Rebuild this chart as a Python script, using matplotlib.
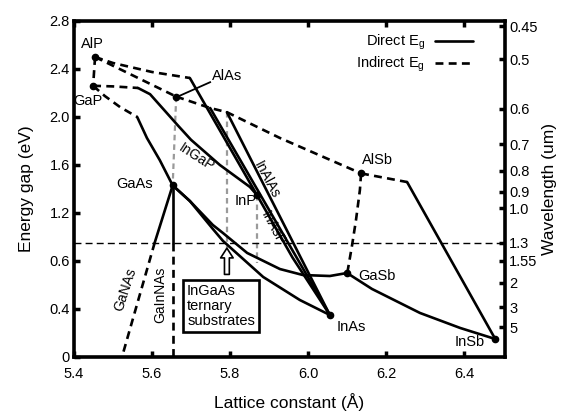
import matplotlib
matplotlib.use("Agg")
import matplotlib.pyplot as plt
from matplotlib.lines import Line2D

plt.rcParams['font.family'] = ['Liberation Sans', 'DejaVu Sans']
plt.rcParams['mathtext.fontset'] = 'custom'
plt.rcParams['mathtext.rm'] = 'Liberation Sans'
plt.rcParams['mathtext.it'] = 'Liberation Sans:italic'

# Binary compounds: lattice constant (Angstrom), band gap (eV)
compounds = ["AlP", "GaP", "AlAs", "GaAs", "InP", "InAs", "GaSb", "AlSb", "InSb"]
lattice = [5.454, 5.449, 5.662, 5.653, 5.869, 6.056, 6.100, 6.136, 6.480]
gap = [2.50, 2.26, 2.17, 1.43, 1.35, 0.35, 0.70, 1.53, 0.15]

# Ternary curves (indirect parts dashed, direct parts solid)
alp_gap_x, alp_gap_e = [5.454, 5.449], [2.50, 2.26]
alp_alas_x, alp_alas_e = [5.454, 5.662], [2.50, 2.17]
alinp_ind_x = [5.454, 5.500, 5.600, 5.697]
alinp_ind_e = [2.50, 2.45, 2.375, 2.325]
alinp_dir_x, alinp_dir_e = [5.697, 5.869], [2.325, 1.35]
ingap_ind_x, ingap_ind_e = [5.449, 5.500, 5.564], [2.26, 2.255, 2.242]
ingap_dir_x = [5.564, 5.595, 5.669, 5.700, 5.774, 5.851, 5.869]
ingap_dir_e = [2.242, 2.19, 1.92, 1.81, 1.60, 1.417, 1.35]
gaasp_ind_x = [5.449, 5.479, 5.518, 5.562]
gaasp_ind_e = [2.26, 2.175, 2.083, 2.00]
gaasp_dir_x = [5.562, 5.587, 5.620, 5.653]
gaasp_dir_e = [2.00, 1.825, 1.64, 1.43]
algaas_x, algaas_e = [5.662, 5.653], [2.17, 1.43]
alas_alsb_x = [5.662, 5.749, 5.792, 5.928, 6.136]
alas_alsb_e = [2.17, 2.075, 2.04, 1.825, 1.53]
inalas_a_x, inalas_a_e = [5.749, 6.056], [2.075, 0.35]
inalas_b_x, inalas_b_e = [5.792, 6.056], [2.04, 0.35]
inasp_x, inasp_e = [5.869, 5.960, 6.056], [1.35, 0.83, 0.35]
ingaas_x = [5.653, 5.697, 5.756, 5.782, 5.885, 5.979, 6.056]
ingaas_e = [1.43, 1.30, 1.067, 0.967, 0.667, 0.475, 0.35]
gaassb_x = [5.653, 5.697, 5.756, 5.782, 5.844, 5.928, 5.987, 6.056, 6.100]
gaassb_e = [1.43, 1.30, 1.10, 1.033, 0.867, 0.733, 0.683, 0.675, 0.70]
gasb_insb_x = [6.100, 6.164, 6.287, 6.390, 6.480]
gasb_insb_e = [0.70, 0.567, 0.367, 0.242, 0.15]
alsb_gasb_x = [6.136, 6.133, 6.123, 6.113, 6.102, 6.100]
alsb_gasb_e = [1.53, 1.392, 1.142, 0.933, 0.725, 0.70]
alsb_insb_ind_x, alsb_insb_ind_e = [6.136, 6.254], [1.53, 1.458]
alsb_insb_dir_x, alsb_insb_dir_e = [6.254, 6.480], [1.458, 0.15]
ganas_dir_x, ganas_dir_e = [5.653, 5.607], [1.43, 0.954]
ganas_ind_x, ganas_ind_e = [5.607, 5.523], [0.954, 0.0]
gainnas_dir_x, gainnas_dir_e = [5.653, 5.653], [1.43, 0.954]
gainnas_ind_x, gainnas_ind_e = [5.653, 5.653], [0.954, 0.0]
sub_lo_x, sub_lo_e = [5.792, 5.792], [2.04, 0.78]
sub_hi_x, sub_hi_e = [5.869, 5.869], [1.35, 0.78]

telecom_wavelength = 1.3  # um
left_ticks = [0, 0.4, 0.8, 1.2, 1.6, 2.0, 2.4, 2.8]
left_labels = ["0", "0.4", "0.6", "1.2", "1.6", "2.0", "2.4", "2.8"]
x_ticks = [5.4, 5.6, 5.8, 6.0, 6.2, 6.4]
wavelengths = [0.45, 0.5, 0.6, 0.7, 0.8, 0.9, 1.0, 1.3, 1.55, 2, 3, 5]
wavelength_labels = ["0.45", "0.5", "0.6", "0.7", "0.8", "0.9", "1.0", "1.3",
                     "1.55", "2", "3", "5"]

fig = plt.figure(figsize=(5.63, 4.12), dpi=100)
ax = fig.add_axes([74 / 563, 1 - 357 / 412, 431 / 563, 336 / 412])

LW = 1.9
DASH = (0, (3.0, 2.0))
solid = dict(color="black", lw=LW, solid_capstyle="round")
dashed = dict(color="black", lw=LW, linestyle=DASH)
gray = dict(color="#9a9a9a", lw=1.6, linestyle=(0, (2.5, 1.8)))

ax.plot(sub_lo_x, sub_lo_e, **gray)
ax.plot(sub_hi_x, sub_hi_e, **gray)
ax.plot(algaas_x, algaas_e, **gray)

for xs, es in [(alp_gap_x, alp_gap_e), (alp_alas_x, alp_alas_e),
               (alinp_ind_x, alinp_ind_e), (ingap_ind_x, ingap_ind_e),
               (gaasp_ind_x, gaasp_ind_e), (alas_alsb_x, alas_alsb_e),
               (alsb_gasb_x, alsb_gasb_e), (alsb_insb_ind_x, alsb_insb_ind_e),
               (ganas_ind_x, ganas_ind_e), (gainnas_ind_x, gainnas_ind_e)]:
    ax.plot(xs, es, **dashed)

for xs, es in [(alinp_dir_x, alinp_dir_e), (ingap_dir_x, ingap_dir_e),
               (gaasp_dir_x, gaasp_dir_e), (inalas_a_x, inalas_a_e),
               (inalas_b_x, inalas_b_e), (inasp_x, inasp_e),
               (ingaas_x, ingaas_e), (gaassb_x, gaassb_e),
               (gasb_insb_x, gasb_insb_e), (alsb_insb_dir_x, alsb_insb_dir_e),
               (ganas_dir_x, ganas_dir_e), (gainnas_dir_x, gainnas_dir_e)]:
    ax.plot(xs, es, **solid)

# AlAs leader line
ax.plot([5.664, 5.749], [2.167, 2.29], color="black", lw=1.3)

ax.plot(lattice, gap, "o", color="black", ms=4.5, zorder=5)

# 1.3 um reference line
ax.axhline(1.24 / telecom_wavelength, color="black", lw=1.0, linestyle=(0, (5, 3)))

fs = 10.5
name_pos = {
    "AlP": (5.446, 2.61, "center"), "GaP": (5.436, 2.13, "center"),
    "AlAs": (5.754, 2.34, "left"), "GaAs": (5.556, 1.44, "center"),
    "InP": (5.841, 1.30, "center"), "AlSb": (6.177, 1.64, "center"),
    "GaSb": (6.128, 0.675, "left"), "InAs": (6.074, 0.25, "left"),
    "InSb": (6.415, 0.125, "center"),
}
for name in compounds:
    x, y, ha = name_pos[name]
    ax.text(x, y, name, fontsize=fs, ha=ha, va="center")

ax.text(5.713, 1.667, "InGaP", fontsize=fs - 0.5, rotation=-33, ha="center", va="center")
ax.text(5.895, 1.48, "InAlAs", fontsize=fs - 0.5, rotation=-62, ha="center", va="center")
ax.text(5.910, 1.075, "InAsP", fontsize=fs - 0.5, rotation=-62, ha="center", va="center")
ax.text(5.531, 0.56, "GaNAs", fontsize=fs - 0.5, rotation=72, ha="center", va="center")
ax.text(5.620, 0.52, "GaInNAs", fontsize=fs - 0.5, rotation=90, ha="center", va="center")

ax.text(5.690, 0.425, "InGaAs\nternary\nsubstrates", fontsize=fs, ha="left", va="center",
        linespacing=1.05,
        bbox=dict(boxstyle="square,pad=0.3", fc="white", ec="black", lw=1.9))
ax.annotate("", xy=(5.792, 0.93), xytext=(5.792, 0.665),
            arrowprops=dict(arrowstyle="simple,head_width=0.9,head_length=0.7,tail_width=0.35",
                            fc="white", ec="black", lw=1.2))

# legend
ax.text(0.814, 0.9375, r"Direct E$_{\rm g}$", transform=ax.transAxes, fontsize=fs,
        ha="right", va="center")
ax.text(0.814, 0.872, r"Indirect E$_{\rm g}$", transform=ax.transAxes, fontsize=fs,
        ha="right", va="center")
ax.add_line(Line2D([0.838, 0.926], [0.94, 0.94], transform=ax.transAxes, **solid))
ax.add_line(Line2D([0.838, 0.926], [0.874, 0.874], transform=ax.transAxes, **dashed))

ax.set_xlim(5.4, 6.505)
ax.set_ylim(0, 2.8)
ax.set_xticks(x_ticks)
ax.set_xticklabels([f"{t:.1f}" for t in x_ticks])
ax.set_yticks(left_ticks)
ax.set_yticklabels(left_labels)
ax.tick_params(direction="in", length=4, width=2.5, labelsize=fs, top=True, pad=3)
ax.tick_params(axis="x", pad=7)
for s in ax.spines.values():
    s.set_linewidth(2.6)
ax.set_xlabel("Lattice constant (Å)", fontsize=12.5, labelpad=9)
ax.set_ylabel("Energy gap (eV)", fontsize=12.5, labelpad=11)

ax2 = ax.twinx()
ax2.set_ylim(0, 2.8)
ax2.set_yticks([1.24 / w for w in wavelengths])
ax2.set_yticklabels(wavelength_labels)
ax2.tick_params(direction="in", length=4, width=2.5, labelsize=fs, pad=3)
ax2.set_ylabel("Wavelength (um)", fontsize=12.5, labelpad=3, rotation=90)

fig.savefig("out.png", dpi=100)
